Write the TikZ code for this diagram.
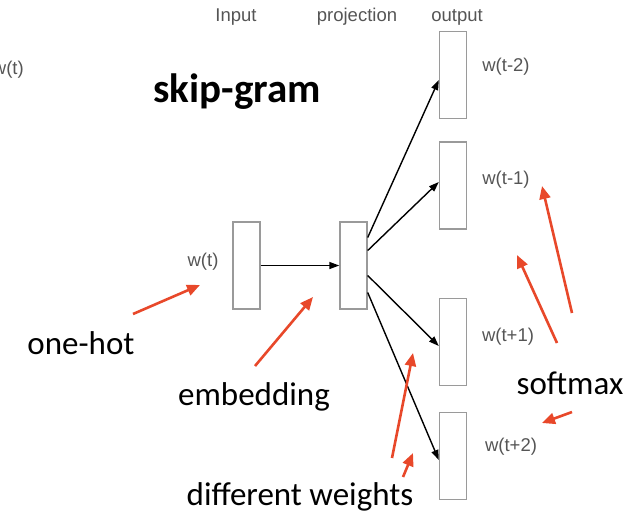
\documentclass[tikz,border=0pt]{standalone}
\usepackage{fontspec}
\setmainfont{Carlito}
\newfontfamily\labelfont{Liberation Sans}
\usetikzlibrary{arrows.meta}
\definecolor{boxgray}{HTML}{9A9A9A}
\definecolor{labgray}{HTML}{555555}
\definecolor{noteRed}{HTML}{E8482A}
\tikzset{
  layer/.style={draw=boxgray,line width=1.4pt,fill=white,minimum width=27pt,minimum height=87pt,inner sep=0pt},
  lab/.style={text=labgray,font=\labelfont\fontsize{18.5}{22}\selectfont,inner sep=0pt},
  note/.style={font=\fontsize{33}{40}\selectfont,inner sep=0pt},
  flow/.style={line width=1.4pt,-{Triangle[length=10pt,width=7pt]}},
  hint/.style={noteRed,line width=2.6pt,-{Triangle[length=13pt,width=11pt]}}
}
\begin{document}
\begin{tikzpicture}[x=1pt,y=-1pt]
\useasboundingbox (0,0) rectangle (628,515);
% layers
\node[layer] (inp) at (246.5,265.5) {};
\node[layer] (proj) at (353.5,265.5) {};
\node[layer] (o1) at (453,75) {};
\node[layer] (o2) at (453,185.5) {};
\node[layer] (o3) at (453,342) {};
\node[layer] (o4) at (453,456) {};
% headings and word labels
\node[lab] (tin) at (236,17) {Input};
\node[lab] (tproj) at (357,17) {projection};
\node[lab] (tout) at (457,17) {output};
\node[lab,anchor=east] (wcut) at (24,70) {w(t)};
\node[lab] (wt) at (203,262) {w(t)};
\node[lab] (w1) at (506,67) {w(t-2)};
\node[lab] (w2) at (506,180) {w(t-1)};
\node[lab] (w3) at (508,337) {w(t+1)};
\node[lab] (w4) at (511,447) {w(t+2)};
% connections
\draw[flow] (inp.east) -- (proj.west);
\draw[flow] ([yshift=28pt]proj.east) -- ([yshift=-5pt]o1.west);
\draw[flow] ([yshift=15pt]proj.east) -- ([yshift=3.5pt]o2.west);
\draw[flow] ([yshift=-10pt]proj.east) -- ([yshift=-4pt]o3.west);
\draw[flow] ([yshift=-27pt]proj.east) -- ([yshift=-4pt]o4.west);
% notes
\node[note,font=\bfseries\fontsize{41}{48}\selectfont] (title) at (237,92) {skip-gram};
\node[note] (hot) at (81,343) {one-hot};
\node[note] (emb) at (254,397) {embedding};
\node[note] (dw) at (300,497) {different weights};
\node[note] (sm) at (570,383) {softmax};
\coordinate (hotA) at (133,314);
\coordinate (hotB) at (200,285);
\coordinate (embA) at (255,366);
\coordinate (embB) at (313,297);
\coordinate (smA) at (572,313);
\coordinate (smB) at (542,186);
\coordinate (smC) at (557,343);
\coordinate (smD) at (517,255);
\coordinate (smE) at (572,412);
\coordinate (smF) at (542,423);
\coordinate (dwA) at (392,458);
\coordinate (dwB) at (413,353);
\coordinate (dwC) at (403,477);
\coordinate (dwD) at (413,453);
\draw[hint] (hotA) -- (hotB);
\draw[hint] (embA) -- (embB);
\draw[hint] (smA) -- (smB);
\draw[hint] (smC) -- (smD);
\draw[hint] (smE) -- (smF);
\draw[hint] (dwA) -- (dwB);
\draw[hint] (dwC) -- (dwD);
\end{tikzpicture}
\end{document}
